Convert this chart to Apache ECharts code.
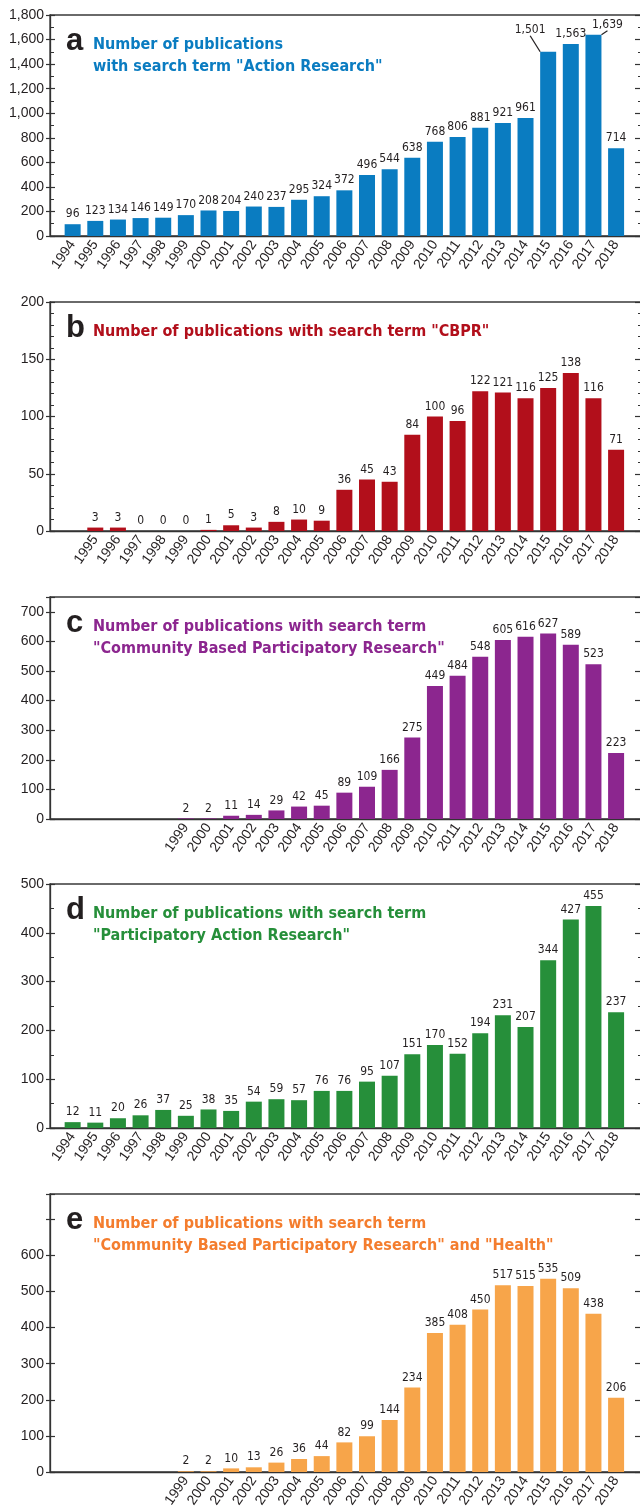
<!DOCTYPE html>
<html><head><meta charset="utf-8">
<script src="https://cdn.jsdelivr.net/npm/echarts@6/dist/echarts.min.js"></script>
<style>html,body{margin:0;padding:0;background:#fff}#c{width:640px;height:1507px}</style>
</head><body><div id="c"></div>
<script>
// ---- data ----
const yearsA = [1994,1995,1996,1997,1998,1999,2000,2001,2002,2003,2004,2005,2006,2007,2008,2009,2010,2011,2012,2013,2014,2015,2016,2017,2018];
const valuesA = [96,123,134,146,149,170,208,204,240,237,295,324,372,496,544,638,768,806,881,921,961,1501,1563,1639,714];
const yearsB = [1995,1996,1997,1998,1999,2000,2001,2002,2003,2004,2005,2006,2007,2008,2009,2010,2011,2012,2013,2014,2015,2016,2017,2018];
const valuesB = [3,3,0,0,0,1,5,3,8,10,9,36,45,43,84,100,96,122,121,116,125,138,116,71];
const yearsC = [1999,2000,2001,2002,2003,2004,2005,2006,2007,2008,2009,2010,2011,2012,2013,2014,2015,2016,2017,2018];
const valuesC = [2,2,11,14,29,42,45,89,109,166,275,449,484,548,605,616,627,589,523,223];
const yearsD = [1994,1995,1996,1997,1998,1999,2000,2001,2002,2003,2004,2005,2006,2007,2008,2009,2010,2011,2012,2013,2014,2015,2016,2017,2018];
const valuesD = [12,11,20,26,37,25,38,35,54,59,57,76,76,95,107,151,170,152,194,231,207,344,427,455,237];
const yearsE = [1999,2000,2001,2002,2003,2004,2005,2006,2007,2008,2009,2010,2011,2012,2013,2014,2015,2016,2017,2018];
const valuesE = [2,2,10,13,26,36,44,82,99,144,234,385,408,450,517,515,535,509,438,206];
const letters = ['a','b','c','d','e'];
const titleA = 'Number of publications\nwith search term "Action Research"';
const titleB = 'Number of publications with search term "CBPR"';
const titleC = 'Number of publications with search term\n"Community Based Participatory Research"';
const titleD = 'Number of publications with search term\n"Participatory Action Research"';
const titleE = 'Number of publications with search term\n"Community Based Participatory Research" and "Health"';
const yMaxLabels = [1800, 200, 700, 500, 600];
// labels moved aside with a leader line in panel a (years)
const calloutYearsA = [2015, 2017];

// ---- styles / layout ----
const NARROW = "'DejaVu Sans Condensed','Liberation Sans Narrow',sans-serif";
const SANS = "'Liberation Sans',Arial,sans-serif";
const INK = '#231f20';
const panels = [
  {years: yearsA, values: valuesA, title: titleA, bar: '#0a7cc1', tcol: '#0a7cc1', top: 15, height: 221, max: 1800, interval: 200, minor: 2},
  {years: yearsB, values: valuesB, title: titleB, bar: '#b20f1b', tcol: '#b20f1b', top: 302, height: 229, max: 200, interval: 50, minor: 5},
  {years: yearsC, values: valuesC, title: titleC, bar: '#8c268f', tcol: '#8c268f', top: 597, height: 222, max: 750, interval: 100, minor: 0},
  {years: yearsD, values: valuesD, title: titleD, bar: '#268f3a', tcol: '#268f3a', top: 884, height: 244, max: 500, interval: 100, minor: 2},
  {years: yearsE, values: valuesE, title: titleE, bar: '#f7a54a', tcol: '#f47d2e', top: 1194, height: 278, max: 770, interval: 100, minor: 0}
];
const calloutShift = {2015: {dx: -18, dy: -12}, 2017: {dx: 14, dy: 0}};

const grid = [], xAxis = [], yAxis = [], series = [], title = [];
panels.forEach((p, i) => {
  grid.push({left: 50, width: 591, top: p.top, height: p.height, show: true,
    borderColor: '#3a3a3a', borderWidth: 1.3, backgroundColor: 'transparent', outerBoundsMode: 'none', containLabel: false});
  xAxis.push({type: 'value', gridIndex: i, min: 1993, max: 2019.1,
    axisLine: {show: true, onZero: false, lineStyle: {color: '#333', width: 1.3}},
    axisTick: {show: false}, splitLine: {show: false},
    axisLabel: {customValues: p.years, rotate: 55, margin: 6, fontFamily: SANS, fontSize: 14, color: INK,
      formatter: v => String(Math.round(v))}});
  const labMax = yMaxLabels[i];
  const base = {type: 'value', gridIndex: i, min: 0, max: p.max, interval: p.interval, splitLine: {show: false}};
  yAxis.push(Object.assign({}, base, {position: 'left',
    axisLine: {show: true, lineStyle: {color: '#333', width: 1.3}},
    axisTick: {show: true, inside: false, length: 4, lineStyle: {color: '#333', width: 1.2}},
    axisLabel: {fontFamily: SANS, fontSize: 14, color: INK, margin: 6,
      formatter: v => (v <= labMax && v % p.interval === 0) ? v.toLocaleString('en-US') : ''}}));
  yAxis.push(Object.assign({}, base, {position: 'left',
    axisLine: {show: false}, axisLabel: {show: false},
    axisTick: {show: true, inside: true, length: 5, lineStyle: {color: '#333', width: 1.2}},
    minorTick: {show: p.minor > 0, splitNumber: p.minor || 5, length: 4, lineStyle: {color: '#333', width: 1}}}));
  yAxis.push(Object.assign({}, base, {position: 'right',
    axisLine: {show: false}, axisLabel: {show: false},
    axisTick: {show: true, inside: true, length: 6, lineStyle: {color: '#333', width: 1.2}},
    minorTick: {show: p.minor > 0, splitNumber: p.minor || 5, length: 3, lineStyle: {color: '#333', width: 1}}}));
  const isA = i === 0;
  const s = {type: 'bar', xAxisIndex: i, yAxisIndex: i * 3, barWidth: 16,
    data: p.years.map((y, k) => {
      const item = {value: [y, p.values[k]]};
      if (isA && calloutYearsA.indexOf(y) >= 0) item.labelLine = {show: true, lineStyle: {color: INK, width: 1.2}};
      return item;
    }),
    itemStyle: {color: p.bar},
    label: {show: true, position: 'top', distance: 4, fontFamily: NARROW, fontSize: 12, color: INK,
      formatter: q => q.value[1].toLocaleString('en-US')},
    animation: false};
  if (isA) {
    s.labelLayout = q => {
      const y = p.years[q.dataIndex];
      return calloutShift[y] || {};
    };
  }
  series.push(s);
  title.push({text: letters[i], left: 66, top: p.top + 9, padding: 0,
    textStyle: {fontFamily: SANS, fontWeight: 'bold', fontSize: 31, color: INK, lineHeight: 34}});
  title.push({text: p.title, left: 93, top: p.top + 19, padding: 0,
    textStyle: {fontFamily: NARROW, fontWeight: 'bold', fontSize: 16, color: p.tcol, lineHeight: 22}});
});

const chart = echarts.init(document.getElementById('c'), null, {renderer: 'canvas'});
chart.setOption({animation: false, backgroundColor: '#fff', title, grid, xAxis, yAxis, series});
</script>
</body></html>
